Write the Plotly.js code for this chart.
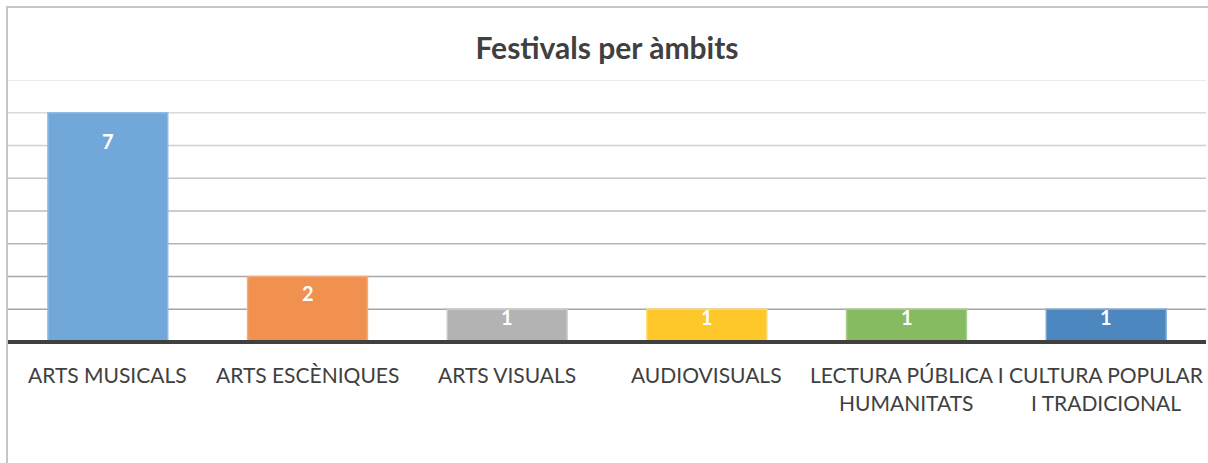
<!DOCTYPE html>
<html>
<head>
<meta charset="utf-8">
<script src="https://cdn.plot.ly/plotly-3.0.1.min.js"></script>
<style>
html,body{margin:0;padding:0;background:#fff;}
#wrap{position:relative;width:1208px;height:463px;overflow:hidden;}
#chart{width:1208px;height:463px;}
#frame{position:absolute;left:6px;top:6px;width:1202px;height:457px;border-left:2px solid #c6c6c6;border-top:2px solid #c6c6c6;box-sizing:border-box;pointer-events:none;}
</style>
</head>
<body>
<div id="wrap"><div id="chart"></div><div id="frame"></div></div>
<script>
const categories = ["ARTS MUSICALS", "ARTS ESCÈNIQUES", "ARTS VISUALS", "AUDIOVISUALS", "LECTURA PÚBLICA I<br>HUMANITATS", "CULTURA POPULAR<br>I TRADICIONAL"];
const values = [7, 2, 1, 1, 1, 1];
const barColors = ["#72a7d9", "#f09150", "#b3b3b3", "#ffc82a", "#87bb62", "#4d87c0"];
const barLines = ["#8fbbe4", "#f5ac7a", "#cacaca", "#ffd866", "#a3cc86", "#79a6d2"];
const title = "Festivals per àmbits";
const yTicks = [0, 1, 2, 3, 4, 5, 6, 7, 8];

const FONT = "Lato, 'Open Sans', sans-serif";
const plotH = 262; // pixel height of plot area
const yMax = 8;

const trace = {
  type: "bar",
  x: categories,
  y: values,
  marker: {color: barColors, line: {color: barLines, width: 1.5}},
  width: 0.6,
  hoverinfo: "x+y"
};

const gridShades = ["#a6a6a6", "#a8a8a8", "#b4b4b4", "#bdbdbd", "#c6c6c6", "#d0d0d0", "#dadada", "#e4e4e4"];
const shapes = [];
yTicks.slice(1).forEach((v, i) => {
  shapes.push({type: "line", xref: "paper", yref: "y", x0: 0, x1: 1, y0: v, y1: v,
    line: {color: gridShades[i], width: 1.5}, layer: "below"});
});
shapes.push({type: "line", xref: "paper", yref: "paper", x0: 0, x1: 1, y0: 0, y1: 0,
  line: {color: "#404040", width: 4}, layer: "above"});

const annotations = [];
categories.forEach((c, i) => {
  const lines = c.split("<br>");
  lines.forEach((ln, k) => {
    annotations.push({x: c, xref: "x", y: 0, yref: "paper", yanchor: "top", xanchor: "center",
      yshift: -18 - k * 28, text: ln, showarrow: false,
      font: {family: FONT, size: 21, color: "#404040"}});
  });
  const hpx = values[i] / yMax * plotH;
  annotations.push({x: c, xref: "x", y: values[i], yref: "y", yanchor: "middle", xanchor: "center",
    yshift: -Math.min(28, 0.25 * hpx), text: "<b>" + values[i] + "</b>", showarrow: false,
    font: {family: FONT, size: 20, color: "#ffffff"}});
});

const layout = {
  width: 1208, height: 463,
  margin: {l: 8, r: 2, t: 80, b: 121, pad: 0},
  paper_bgcolor: "#ffffff", plot_bgcolor: "#ffffff",
  title: {text: "<b>" + title + "</b>", x: 0.5, xref: "paper", xanchor: "center",
    y: 1 - 48 / 463, yref: "container", yanchor: "middle",
    font: {family: FONT, size: 30, color: "#404040"}},
  showlegend: false,
  bargap: 0.4,
  xaxis: {type: "category", showticklabels: false, showgrid: false, zeroline: false, showline: false, ticks: "", fixedrange: true},
  yaxis: {range: [0, yMax], tickvals: yTicks, showticklabels: false, showgrid: false, zeroline: false, showline: false, ticks: "", fixedrange: true},
  shapes: shapes,
  annotations: annotations
};

Plotly.newPlot("chart", [trace], layout, {displayModeBar: false, staticPlot: true});
</script>
</body>
</html>
